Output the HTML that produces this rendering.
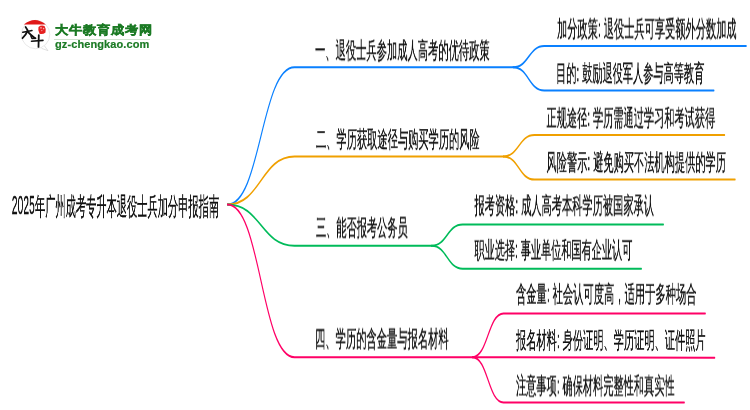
<!DOCTYPE html>
<html><head><meta charset="utf-8"><style>
html,body{margin:0;padding:0;background:#fff;}
body{width:750px;height:410px;position:relative;overflow:hidden;font-family:"Liberation Sans",sans-serif;}
.t{position:absolute;line-height:normal;white-space:pre;color:#111;transform-origin:0 0;will-change:transform;-webkit-text-stroke:0.38px #111;}
svg.lines{position:absolute;left:0;top:0;}
svg.lines path{fill:none;stroke-width:2;stroke-linecap:round;}
</style></head><body>
<svg class="lines" width="750" height="410" viewBox="0 0 1363.64 410" preserveAspectRatio="none">
<path d="M413.64,204.50 C474.55,204.50 474.55,67.34 535.45,67.34 L933.09,67.34" stroke="#0a80ff"/>
<path d="M933.09,67.34 C961.27,67.34 961.27,45.98 989.45,45.98 L1356.73,45.98" stroke="#0a80ff"/>
<path d="M933.09,67.34 C961.27,67.34 961.27,90.50 989.45,90.50 L1298.00,90.5" stroke="#0a80ff"/>
<path d="M413.64,204.50 C474.55,204.50 474.55,156.50 535.45,156.50 L915.27,156.5" stroke="#f0a000"/>
<path d="M915.27,156.50 C943.45,156.50 943.45,135.10 971.64,135.10 L1317.45,135.1" stroke="#f0a000"/>
<path d="M915.27,156.50 C943.45,156.50 943.45,179.60 971.64,179.60 L1336.55,179.6" stroke="#f0a000"/>
<path d="M413.64,204.50 C474.55,204.50 474.55,245.80 535.45,245.80 L784.73,245.8" stroke="#00bb5a"/>
<path d="M784.73,245.80 C812.91,245.80 812.91,224.40 841.09,224.40 L1206.18,224.4" stroke="#00bb5a"/>
<path d="M784.73,245.80 C812.91,245.80 812.91,268.80 841.09,268.80 L1166.18,268.8" stroke="#00bb5a"/>
<path d="M413.64,204.50 C474.55,204.50 474.55,357.20 535.45,357.20 L859.09,357.2" stroke="#ff0066"/>
<path d="M859.09,357.20 C887.27,357.20 887.27,313.40 915.45,313.40 L1282.36,313.4" stroke="#ff0066"/>
<path d="M859.09,357.2 L1299.45,357.85" stroke="#ff0066"/>
<path d="M859.09,357.20 C887.27,357.20 887.27,402.44 915.45,402.44 L1244.18,402.44" stroke="#ff0066"/>
</svg>
<div class="t" id="t_d2025" style="left:11px;top:190px;font-size:26.0px;transform:translate(0.768px,0.050px) scaleX(0.3972)">2025</div>
<div class="t" id="t_root" style="left:35px;top:190px;font-size:24.5px;transform:translate(0.000px,0.000px) scaleX(0.4090)">年广州成考专升本退役士兵加分申报指南</div>
<div class="t" id="t_b1" style="left:315px;top:35px;font-size:23.0px;transform:translate(0.000px,0.200px) scaleX(0.4469)">一、退役士兵参加成人高考的优待政策</div>
<div class="t" id="t_c1a" style="left:557px;top:13px;font-size:23.0px;transform:translate(0.007px,0.600px) scaleX(0.4447)">加分政策: 退役士兵可享受额外分数加成</div>
<div class="t" id="t_c1b" style="left:556px;top:58px;font-size:23.0px;transform:translate(0.059px,0.100px) scaleX(0.4423)">目的: 鼓励退役军人参与高等教育</div>
<div class="t" id="t_b2" style="left:316px;top:124px;font-size:23.0px;transform:translate(0.000px,0.100px) scaleX(0.4450)">二、学历获取途径与购买学历的风险</div>
<div class="t" id="t_c2a" style="left:546px;top:102px;font-size:23.0px;transform:translate(0.526px,0.650px) scaleX(0.4426)">正规途径: 学历需通过学习和考试获得</div>
<div class="t" id="t_c2b" style="left:546px;top:147px;font-size:23.0px;transform:translate(0.527px,0.100px) scaleX(0.4441)">风险警示: 避免购买不法机构提供的学历</div>
<div class="t" id="t_b3" style="left:316px;top:212px;font-size:23.0px;transform:translate(0.010px,0.400px) scaleX(0.4429)">三、能否报考公务员</div>
<div class="t" id="t_c3a" style="left:474px;top:190px;font-size:23.0px;transform:translate(0.480px,0.300px) scaleX(0.4443)">报考资格: 成人高考本科学历被国家承认</div>
<div class="t" id="t_c3b" style="left:474px;top:234px;font-size:23.0px;transform:translate(0.481px,0.800px) scaleX(0.4409)">职业选择: 事业单位和国有企业认可</div>
<div class="t" id="t_b4" style="left:315px;top:323px;font-size:23.0px;transform:translate(0.049px,0.600px) scaleX(0.4470)">四、学历的含金量与报名材料</div>
<div class="t" id="t_c4a" style="left:515px;top:278px;font-size:23.0px;transform:translate(0.985px,0.800px) scaleX(0.4468)">含金量: 社会认可度高，适用于多种场合</div>
<div class="t" id="t_c4b" style="left:516px;top:325px;font-size:23.0px;transform:translate(0.000px,0.000px) scaleX(0.4441)">报名材料: 身份证明、学历证明、证件照片</div>
<div class="t" id="t_c4c" style="left:516px;top:370px;font-size:23.0px;transform:translate(0.000px,0.500px) scaleX(0.4431)">注意事项: 确保材料完整性和真实性</div>
<style>
.logo{position:absolute;left:0;top:0;}
.lt1{position:absolute;left:54.5px;top:22px;font-size:12.2px;font-weight:bold;color:#1b7a24;-webkit-text-stroke:0.45px #1b7a24;letter-spacing:0.7px;white-space:pre;will-change:transform;transform-origin:0 0;transform:scaleX(1.1);}
.lt2{position:absolute;left:55.3px;top:38.3px;font-size:11px;font-weight:bold;color:#1b7a24;letter-spacing:0.1px;-webkit-text-stroke:0.2px #1b7a24;white-space:pre;will-change:transform;}
.sep{position:absolute;left:54px;top:38.5px;width:96px;height:1px;background:#cfe3cf;}
</style>
<svg class="logo" width="60" height="60" viewBox="0 0 60 60">
  <circle cx="35.6" cy="34.5" r="14.2" fill="#fff" stroke="#dedede" stroke-width="0.7"/>
  <path d="M23.8,24.6 Q34.8,15.5 45.8,24.6 Z" fill="#e01818"/>
  <path d="M44.5,46 L48,50.7 L41.5,48.3" fill="#fff" stroke="#d4d4d4" stroke-width="0.7"/>
  <path d="M38.5,27 Q41,24.8 44.5,26 Q46.5,29 45.5,32.5 Q43,34.8 39.5,33.8 Q37.6,30.5 38.5,27 Z" fill="#e62020"/>
  <g fill="#f6a8a8"><circle cx="41" cy="27.8" r="0.9"/><circle cx="43.6" cy="28.6" r="0.8"/><circle cx="41.8" cy="30.6" r="0.7"/></g>
  <g fill="none" stroke="#111" stroke-linecap="round" stroke-linejoin="round">
    <path d="M25.6,27 L27.6,30.3" stroke-width="1.7"/>
    <path d="M22.8,32.3 Q27,31.6 32,30.6" stroke-width="1.5"/>
    <path d="M27.6,30.6 Q26,35 22.5,38.2" stroke-width="1.8"/>
    <path d="M27.6,31.7 Q31,35.5 35.1,38.2" stroke-width="1.9"/>
    <path d="M30.9,36 L32,38.5 L35.7,38.2" stroke-width="1.5"/>
    <path d="M31.5,41.3 L43,40.4" stroke-width="1.6"/>
    <path d="M38.8,35.1 L38.5,46.9" stroke-width="1.8"/>
  </g>
</svg>
<div class="lt1">大牛教育成考网</div>
<div class="sep"></div>
<div class="lt2">gz-chengkao.com</div>

</body></html>
